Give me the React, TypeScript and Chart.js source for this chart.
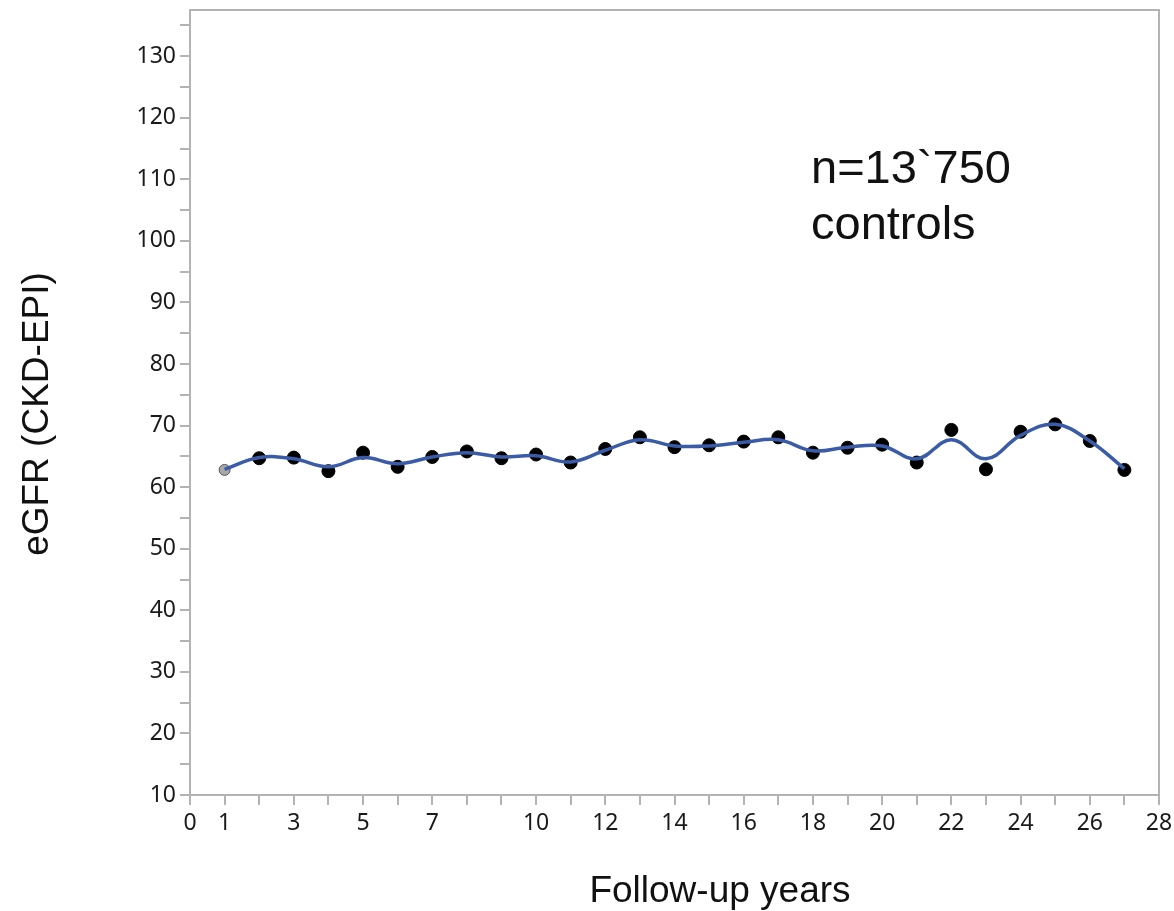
import React, { useEffect, useRef } from 'react';
import { Chart, registerables } from 'chart.js';

Chart.register(...registerables);

// ---- data ----
const years = [1, 2, 3, 4, 5, 6, 7, 8, 9, 10, 11, 12, 13, 14, 15, 16, 17, 18, 19, 20, 21, 22, 23, 24, 25, 26, 27];
const egfrMeans = [62.8, 64.7, 64.8, 62.6, 65.6, 63.3, 64.9, 65.8, 64.7, 65.3, 64.0, 66.2, 68.1, 66.5, 66.8, 67.4, 68.1, 65.6, 66.4, 66.9, 64.0, 69.3, 62.9, 69.0, 70.2, 67.5, 62.8];
const smoothFit = [62.9, 64.8, 64.6, 63.3, 64.8, 63.8, 64.9, 65.6, 64.9, 65.1, 64.1, 66.0, 67.7, 66.7, 66.7, 67.3, 67.7, 65.9, 66.5, 66.7, 64.6, 67.7, 64.6, 68.4, 70.2, 67.5, 63.0];
const xTickValues = [0, 1, 2, 3, 4, 5, 6, 7, 8, 9, 10, 11, 12, 13, 14, 15, 16, 17, 18, 19, 20, 21, 22, 23, 24, 25, 26, 27, 28];
const xTickLabels = [0, 1, 3, 5, 7, 10, 12, 14, 16, 18, 20, 22, 24, 26, 28];
const yTickValues = [10, 15, 20, 25, 30, 35, 40, 45, 50, 55, 60, 65, 70, 75, 80, 85, 90, 95, 100, 105, 110, 115, 120, 125, 130, 135];
const yTickLabels = [10, 20, 30, 40, 50, 60, 70, 80, 90, 100, 110, 120, 130];
const xTitle = 'Follow-up years';
const yTitle = 'eGFR (CKD-EPI)';
const noteLines = ['n=13`750', 'controls'];

const AXIS_GRAY = '#b3b3b3';
const TICK_FONT = { family: '"Noto Sans", sans-serif', size: 23 };

const decorPlugin = {
  id: 'decor',
  beforeDatasetsDraw(chart: any) {
    const { ctx, chartArea } = chart;
    ctx.save();
    ctx.strokeStyle = AXIS_GRAY;
    ctx.lineWidth = 2;
    ctx.beginPath();
    ctx.moveTo(chartArea.left, chartArea.top);
    ctx.lineTo(chartArea.right, chartArea.top);
    ctx.lineTo(chartArea.right, chartArea.bottom);
    ctx.stroke();
    ctx.restore();
  },
  afterDraw(chart: any) {
    const { ctx } = chart;
    ctx.save();
    ctx.fillStyle = '#111111';
    ctx.font = '37px "Liberation Sans", Arial, sans-serif';
    ctx.textAlign = 'center';
    ctx.textBaseline = 'alphabetic';
    ctx.fillText(xTitle, 720, 902);
    ctx.save();
    ctx.translate(48, 414);
    ctx.rotate(-Math.PI / 2);
    ctx.fillText(yTitle, 0, 0);
    ctx.restore();
    ctx.font = '47px "Liberation Sans", Arial, sans-serif';
    ctx.textAlign = 'left';
    ctx.fillText(noteLines[0], 811, 183);
    ctx.fillText(noteLines[1], 811, 239);
    ctx.restore();
  },
};

export default function App() {
  const canvasRef = useRef<HTMLCanvasElement | null>(null);

  useEffect(() => {
    if (!canvasRef.current) return;
    const pointColors = years.map((_, i) => (i === 0 ? '#a8a8a8' : '#000000'));
    const pointBorders = years.map((_, i) => (i === 0 ? '#555555' : '#000000'));
    const pointRadii = years.map((_, i) => (i === 0 ? 5.5 : 6.5));

    const chart = new Chart(canvasRef.current, {
      type: 'scatter',
      data: {
        datasets: [
          {
            label: 'fit',
            data: years.map((x, i) => ({ x, y: smoothFit[i] })),
            showLine: true,
            borderColor: '#3a5ba8',
            borderWidth: 3.5,
            pointRadius: 0,
            tension: 0.4,
            fill: false,
          },
          {
            label: 'means',
            data: years.map((x, i) => ({ x, y: egfrMeans[i] })),
            showLine: false,
            pointBackgroundColor: pointColors,
            pointBorderColor: pointBorders,
            pointBorderWidth: 1,
            pointRadius: pointRadii,
          },
        ],
      },
      options: {
        animation: false,
        responsive: true,
        maintainAspectRatio: false,
        layout: { padding: { top: 10, right: 15, left: 0, bottom: 0 } },
        plugins: { legend: { display: false }, tooltip: { enabled: false } },
        scales: {
          x: {
            type: 'linear',
            min: 0,
            max: 28,
            afterBuildTicks: (scale: any) => {
              scale.ticks = xTickValues.map((v) => ({ value: v }));
            },
            afterFit: (scale: any) => {
              scale.height = 116;
              scale.paddingLeft = 0;
              scale.paddingRight = 0;
            },
            ticks: {
              autoSkip: false,
              maxRotation: 0,
              padding: 5,
              color: '#1a1a1a',
              font: TICK_FONT,
              callback: (v: any) => (xTickLabels.includes(Number(v)) ? String(v) : ''),
            },
            grid: {
              drawOnChartArea: false,
              drawTicks: true,
              tickLength: 10,
              color: AXIS_GRAY,
              lineWidth: 2,
            },
            border: { color: AXIS_GRAY, width: 2 },
          },
          y: {
            type: 'linear',
            min: 10,
            max: 137.5,
            afterBuildTicks: (scale: any) => {
              scale.ticks = yTickValues.map((v) => ({ value: v }));
            },
            afterFit: (scale: any) => {
              scale.width = 190;
              scale.paddingTop = 0;
              scale.paddingBottom = 0;
            },
            ticks: {
              autoSkip: false,
              padding: 4,
              color: '#1a1a1a',
              font: TICK_FONT,
              callback: (v: any) => (yTickLabels.includes(Number(v)) ? String(v) : ''),
            },
            grid: {
              drawOnChartArea: false,
              drawTicks: true,
              tickLength: 10,
              color: AXIS_GRAY,
              lineWidth: 2,
            },
            border: { color: AXIS_GRAY, width: 2 },
          },
        },
      },
      plugins: [decorPlugin],
    });
    return () => chart.destroy();
  }, []);

  return (
    <div style={{ position: 'absolute', left: 0, top: 0, width: 1174, height: 911, background: '#ffffff' }}>
      <canvas ref={canvasRef} />
    </div>
  );
}
